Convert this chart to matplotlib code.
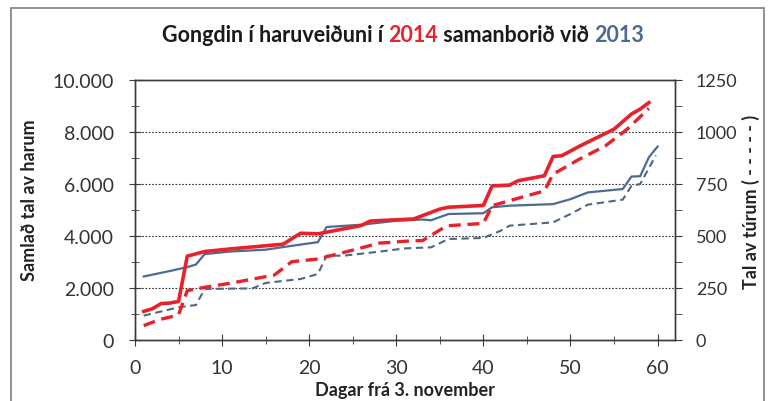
import matplotlib.pyplot as plt
from matplotlib.patches import Rectangle
from matplotlib.ticker import MultipleLocator, FuncFormatter

plt.rcParams['font.family'] = ['Lato', 'DejaVu Sans']

# 2014 samlaðir harar (heil linja)
days_h14 = [1, 2, 3, 4, 5, 6, 8, 11, 17, 19, 21, 26, 27, 32, 35, 36, 40, 41, 43, 44, 47, 48, 49, 51, 55, 57, 58, 59]
hares_14 = [1100, 1200, 1400, 1420, 1480, 3220, 3400, 3500, 3680, 4100, 4080, 4400, 4570, 4650, 5030, 5100,
            5170, 5920, 5950, 6120, 6310, 7050, 7080, 7440, 8100, 8680, 8870, 9120]

# 2013 samlaðir harar
days_h13 = [1, 4, 6, 7, 8, 11, 15, 17, 21, 22, 26, 30, 33, 34, 36, 40, 41, 43, 48, 50, 52, 56, 57, 58, 59, 60]
hares_13 = [2440, 2650, 2800, 2900, 3300, 3400, 3470, 3570, 3760, 4340, 4430, 4580, 4630, 4600, 4840, 4870,
            5100, 5160, 5220, 5410, 5670, 5800, 6280, 6290, 7020, 7430]

# 2014 túrar (stipla)
days_t14 = [1, 2, 3, 4, 5, 6, 8, 11, 16, 18, 21, 25.5, 28, 32, 33, 35.5, 36, 40, 41, 43, 47, 48, 49, 51, 54, 56.5, 59]
trips_14 = [69, 85, 100, 110, 121, 237, 253, 273, 312, 376, 389, 437, 465, 477, 477, 541, 549, 560, 645, 669,
            716, 797, 820, 868, 932, 1012, 1112]

# 2013 túrar
days_t13 = [1, 5, 7, 8, 13.5, 15, 19, 21, 22, 24, 28, 31, 34, 36, 40, 42, 43, 48, 50, 52, 56, 57, 58, 59.8]
trips_13 = [117, 157, 168, 245, 248, 274, 293, 317, 405, 405, 424, 440, 445, 485, 490, 525, 549, 565, 605,
            650, 674, 740, 749, 886]

RED = '#e8212b'
BLUE = '#4c6a92'
BLUE_D = '#4f6780'

fig = plt.figure(figsize=(7.71, 4.02), dpi=100)
fig.patches.append(Rectangle((11 / 771, -0.1), 753 / 771, 1.1 - 8.5 / 402, transform=fig.transFigure,
                             fill=False, edgecolor='#7f7f7f', linewidth=1.2))

ax = fig.add_axes([135 / 771, 61 / 402, 540 / 771, 260.3 / 402])
ax2 = ax.twinx()

ax.plot(days_h13, hares_13, color=BLUE, linewidth=1.6, zorder=3)
ax.plot(days_h14, hares_14, color=RED, linewidth=2.6, zorder=4)
ax2.plot(days_t13, trips_13, color=BLUE_D, linewidth=1.5, dashes=(3.5, 2.2), zorder=3)
ax2.plot(days_t14, trips_14, color=RED, linewidth=2.4, dashes=(3.6, 2.0), zorder=4)

ax.set_xlim(0, 62)
ax.set_ylim(0, 10000)
ax2.set_ylim(0, 1250)

ax.xaxis.set_major_locator(MultipleLocator(10))
ax.xaxis.set_minor_locator(MultipleLocator(5))
ax.yaxis.set_major_locator(MultipleLocator(2000))
ax.yaxis.set_minor_locator(MultipleLocator(1000))
ax2.yaxis.set_major_locator(MultipleLocator(250))
ax2.yaxis.set_minor_locator(MultipleLocator(125))
ax.yaxis.set_major_formatter(FuncFormatter(lambda v, p: f'{int(v):,}'.replace(',', '.')))

for y in [2000, 4000, 6000, 8000]:
    ax.axhline(y, color='#333333', linewidth=0.8, linestyle=(0, (1.5, 1.5)), zorder=1)

for a in (ax, ax2):
    for s in a.spines.values():
        s.set_color('#3a3a3a')
        s.set_linewidth(1.0)
ax.tick_params(axis='both', which='both', direction='inout', color='#3a3a3a', labelsize=14,
               labelcolor='#333333')
ax.tick_params(axis='y', pad=11)
ax.tick_params(axis='x', pad=10)
ax.tick_params(which='major', length=8)
ax.tick_params(which='minor', length=6)
ax2.tick_params(axis='y', which='both', direction='out', color='#3a3a3a', labelsize=13,
                labelcolor='#333333', pad=10)
ax2.tick_params(which='major', length=5)
ax2.tick_params(which='minor', length=5)

ax.set_xlabel('Dagar frá 3. november', fontsize=13, fontweight='bold', color='#222222')
ax.set_ylabel('Samlað tal av harum', fontsize=13, fontweight='bold', color='#222222')
ax2.set_ylabel('Tal av túrum ( - - - - - )', fontsize=13, fontweight='bold', color='#222222')
ax.xaxis.set_label_coords(0.5, -0.157)
ax.yaxis.set_label_coords(-0.18, 0.54)
ax2.yaxis.set_label_coords(1.124, 0.535)

# heiti við litum
parts = [('Gongdin í haruveiðuni í ', '#1a1a1a'), ('2014', RED), (' samanborið við ', '#1a1a1a'), ('2013', BLUE)]
fig.canvas.draw()
r = fig.canvas.get_renderer()
texts = []
for s, c in parts:
    texts.append(fig.text(0, 0, s, fontsize=15.5, fontweight='bold', color=c, va='baseline'))
widths = [t.get_window_extent(r).width for t in texts]
total = sum(widths)
x0 = 403 - total / 2
for t, w in zip(texts, widths):
    t.set_position((x0 / 771, (402 - 42) / 402))
    x0 += w

fig.savefig('out.png', dpi=100)
